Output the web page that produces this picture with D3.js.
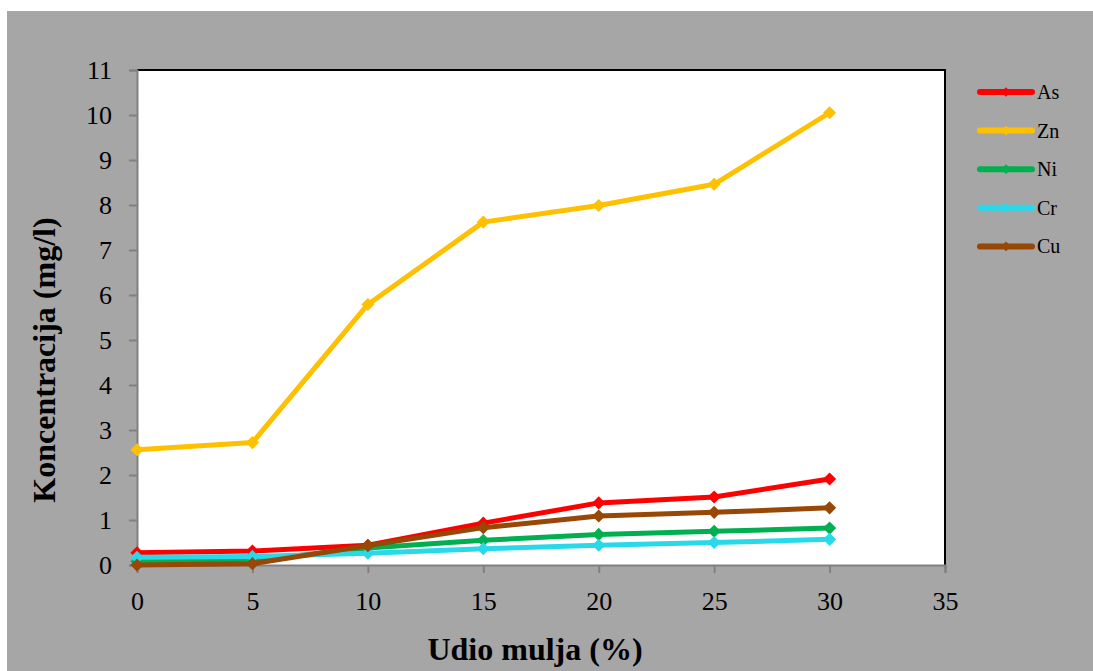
<!DOCTYPE html>
<html>
<head>
<meta charset="utf-8">
<script src="https://cdn.jsdelivr.net/npm/d3@7"></script>
<style>
  html, body { margin: 0; padding: 0; background: #ffffff; }
  svg { display: block; }
</style>
</head>
<body>
<svg id="chart" width="1093" height="671"></svg>
<script>
const xValues = [0, 5, 10, 15, 20, 25, 30];
const seriesNames = ["As", "Zn", "Ni", "Cr", "Cu"];
const seriesColors = ["#ff0000", "#ffc000", "#00b050", "#29d9ea", "#974706"];
const As = [0.27, 0.31, 0.44, 0.93, 1.38, 1.51, 1.91];
const Zn = [2.56, 2.72, 5.79, 7.62, 7.99, 8.46, 10.05];
const Ni = [0.08, 0.10, 0.38, 0.55, 0.68, 0.75, 0.82];
const Cr = [0.17, 0.19, 0.26, 0.36, 0.44, 0.50, 0.57];
const Cu = [0.00, 0.03, 0.43, 0.83, 1.09, 1.17, 1.27];
const seriesValues = [As, Zn, Ni, Cr, Cu];
const xTicks = [0, 5, 10, 15, 20, 25, 30, 35];
const yTicks = [0, 1, 2, 3, 4, 5, 6, 7, 8, 9, 10, 11];
const xTitle = "Udio mulja (%)";
const yTitle = "Koncentracija (mg/l)";

const FONT = "'Liberation Serif', 'Times New Roman', serif";
const svg = d3.select("#chart");
const W = 1093, H = 671;
const plot = { left: 137, top: 70, right: 945, bottom: 565 };

// background
svg.append("rect").attr("x", 7).attr("y", 11).attr("width", W - 7).attr("height", H - 11).attr("fill", "#a6a6a6");
svg.append("rect").attr("x", plot.left).attr("y", plot.top)
  .attr("width", plot.right - plot.left).attr("height", plot.bottom - plot.top).attr("fill", "#ffffff");

const x = d3.scaleLinear().domain([0, 35]).range([plot.left, plot.right]);
const y = d3.scaleLinear().domain([0, 11]).range([plot.bottom, plot.top]);

// top & right border
svg.append("path")
  .attr("d", `M${plot.left},${plot.top}H${plot.right}V${plot.bottom}`)
  .attr("fill", "none").attr("stroke", "#000").attr("stroke-width", 2);

// axes
const xAxis = d3.axisBottom(x).tickValues(xTicks).tickSize(8).tickFormat(d3.format("d"));
const gx = svg.append("g").attr("transform", `translate(0,${plot.bottom})`).call(xAxis);
gx.select(".domain").attr("stroke", "#808080").attr("stroke-width", 2);
gx.selectAll(".tick line").attr("stroke", "#808080").attr("stroke-width", 2);
gx.selectAll(".tick text").attr("y", 45).attr("dy", 0)
  .style("font-family", FONT).style("font-size", "26px").attr("fill", "#000");

const yAxis = d3.axisLeft(y).tickValues(yTicks).tickSize(8).tickPadding(17).tickFormat(d3.format("d"));
const gy = svg.append("g").attr("transform", `translate(${plot.left},0)`).call(yAxis);
gy.select(".domain").attr("stroke", "#808080").attr("stroke-width", 2);
gy.selectAll(".tick line").attr("stroke", "#808080").attr("stroke-width", 2);
gy.selectAll(".tick text").attr("dy", "0.34em")
  .style("font-family", FONT).style("font-size", "26px").attr("fill", "#000");

// titles
svg.append("text").attr("x", 535).attr("y", 660)
  .attr("text-anchor", "middle").style("font-family", FONT).style("font-size", "32px")
  .style("font-weight", "bold").attr("fill", "#000").text(xTitle);
svg.append("text").attr("transform", `translate(55,360) rotate(-90)`)
  .attr("text-anchor", "middle").style("font-family", FONT).style("font-size", "32px")
  .style("font-weight", "bold").attr("fill", "#000").text(yTitle);

// series
const line = d3.line().x((d, i) => x(xValues[i])).y(d => y(d));
const diamond = d3.symbol().type(d3.symbolDiamond2).size(110);
seriesValues.forEach((vals, s) => {
  const g = svg.append("g");
  g.append("path").attr("d", line(vals)).attr("fill", "none")
    .attr("stroke", seriesColors[s]).attr("stroke-width", 5).attr("stroke-linejoin", "round");
  g.selectAll("path.m").data(vals).enter().append("path").attr("class", "m")
    .attr("d", diamond)
    .attr("transform", (d, i) => `translate(${x(xValues[i])},${y(d)})`)
    .attr("fill", seriesColors[s]);
});

// legend
const lg = svg.append("g");
seriesNames.forEach((name, s) => {
  const ly = 92 + s * 38.6;
  lg.append("line").attr("x1", 980).attr("x2", 1032).attr("y1", ly).attr("y2", ly)
    .attr("stroke", seriesColors[s]).attr("stroke-width", 6).attr("stroke-linecap", "round");
  lg.append("path").attr("d", d3.symbol().type(d3.symbolDiamond2).size(60))
    .attr("transform", `translate(1006,${ly})`).attr("fill", seriesColors[s]);
  lg.append("text").attr("x", 1037).attr("y", ly + 7)
    .style("font-family", FONT).style("font-size", "20px").attr("fill", "#000").text(name);
});
</script>
</body>
</html>
